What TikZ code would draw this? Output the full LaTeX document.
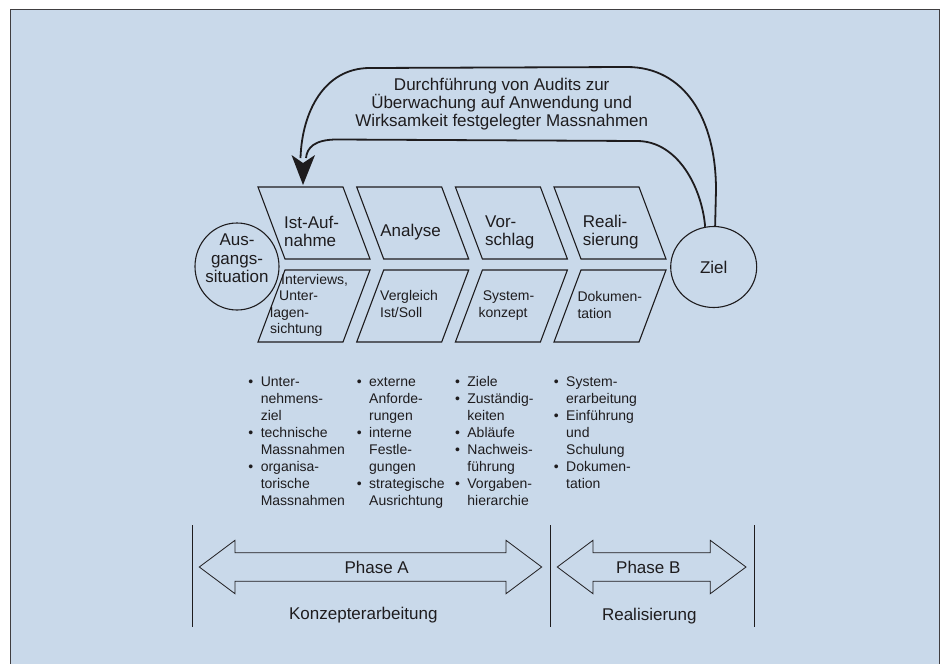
\documentclass[tikz,border=0pt]{standalone}
\usepackage{fontspec}
\setmainfont{Liberation Sans}
\usetikzlibrary{shapes.geometric}

\definecolor{paper}{RGB}{201,217,234}
\definecolor{ink}{RGB}{30,28,30}

\newcommand*{\boxw}{85}
\newcommand*{\boxh}{72}
\newcommand*{\slant}{27}
\newcommand*{\topY}{187}
\newcommand*{\lowY}{270}
\newcommand*{\fs}[1]{\rule{0pt}{#1pt}}
\newcommand*{\bul}{\llap{\textbullet\hspace{7.5pt}}}

\begin{document}
\begin{tikzpicture}
[
	x=1pt,y=-1pt,
	every node/.style={inner sep=0pt,text=ink},
	boxline/.style={draw=ink,line width=1.1pt},
	loopline/.style={draw=ink,line width=1.8pt},
	phaseline/.style={draw=ink,line width=0.8pt},
	bigtxt/.style={font=\fontsize{17}{18}\selectfont,align=left},
	smalltxt/.style={font=\fontsize{14}{16.5}\selectfont,align=left,anchor=north west},
	listtxt/.style={font=\fontsize{14}{17}\selectfont,align=left,anchor=north west},
	phasetxt/.style={font=\fontsize{17}{18}\selectfont,anchor=base},
	roundbox/.style={ellipse,draw=ink,line width=1.1pt}
]

	\useasboundingbox (0,0) rectangle (946,664);
	\clip (0,0) rectangle (946,664);

	% frame
	\fill[white] (0,0) rectangle (946,664);
	\filldraw[fill=paper,draw=ink!85,line width=1pt] (10.5,9.3) rectangle (939.5,680);

	% step boxes
	\foreach \a in {258,356.7,455.4,554}{
		\draw[boxline] (\a,\topY) -- ++(\boxw,0) -- ++(\slant,\boxh) -- ++(-\boxw,0) -- cycle;
		\draw[boxline] (\a+\slant,\lowY) -- ++(\boxw,0) -- ++(-\slant,\boxh) -- ++(-\boxw,0) -- cycle;
	}

	\node[roundbox,minimum width=84pt,minimum height=87pt] (ausg) at (237,266.5) {};
	\node[bigtxt,align=center,anchor=north,font=\fontsize{17}{18.5}\selectfont] (ausgtxt) at (237,232.7) {\fs{13}Aus-\\gangs-\\situation};
	\node[roundbox,minimum width=86pt,minimum height=81pt,font=\fontsize{17}{18}\selectfont] (ziel) at (713.7,267) {Ziel};

	\node[bigtxt,anchor=north west] (ist) at (284,215.3) {\fs{13}Ist-Auf-\\nahme};
	\node[bigtxt,anchor=base] (analyse) at (410.5,236) {Analyse};
	\node[bigtxt,anchor=north west] (vor) at (485,214.7) {\fs{13}Vor-\\schlag};
	\node[bigtxt,anchor=north west] (real) at (582.7,214.7) {\fs{13}Reali-\\sierung};

	\node[smalltxt] (interv) at (270,273) {\fs{11}\hspace*{11pt}Interviews,\\\hspace*{9pt}Unter-\\lagen-\\sichtung};
	\node[smalltxt] (vergl) at (380,289.7) {\fs{11}Vergleich\\Ist/Soll};
	\node[smalltxt] (syst) at (478.3,289.7) {\fs{11}\hspace*{4.4pt}System-\\konzept};
	\node[smalltxt] (doku) at (577.3,290.7) {\fs{11}Dokumen-\\tation};

	% lists
	\node[listtxt] (listA) at (260.6,374.8) {\fs{11}\bul Unter-\\nehmens-\\ziel\\\bul technische\\Massnahmen\\\bul organisa-\\torische\\Massnahmen};
	\node[listtxt] (listB) at (369,374.8) {\fs{11}\bul externe\\Anforde-\\rungen\\\bul interne\\Festle-\\gungen\\\bul strategische\\Ausrichtung};
	\node[listtxt] (listC) at (467.2,374.8) {\fs{11}\bul Ziele\\\bul Zuständig-\\keiten\\\bul Abläufe\\\bul Nachweis-\\führung\\\bul Vorgaben-\\hierarchie};
	\node[listtxt] (listD) at (566,374.8) {\fs{11}\bul System-\\erarbeitung\\\bul Einführung\\und\\Schulung\\\bul Dokumen-\\tation};

	% audit loop
	\node[bigtxt,align=center,anchor=north] (audit) at (501.7,77) {\fs{13}Durchführung von Audits zur\\Überwachung auf Anwendung und\\Wirksamkeit festgelegter Massnahmen};
	\coordinate (tip) at (303,185);
	\draw[loopline] (ziel.88) -- (716,190) .. controls (716,118) and (684,67) .. (627,67) -- (370,68) .. controls (324,68) and (302,112) .. (300.5,158);
	\draw[loopline] (ziel.102) .. controls (702,188) and (678,141) .. (637,141) -- (337,139.5) .. controls (314,139.5) and (307,148) .. (306,158);
	\fill[ink] (291.5,155) -- (tip) -- (315,155) -- (303,163) -- cycle;

	% phases
	\foreach \x in {192.7,550,754}
		\draw[phaseline] (\x,525) -- (\x,626.7);
	\foreach \l/\r in {199.3/541.7,557.3/746}
		\draw[phaseline] (\l,567) -- ++(35.7,-26.7) -- ++(0,12.5) -- (\r-35.7,552.8) -- ++(0,-12.5) -- (\r,567) -- ++(-35.7,26.7) -- ++(0,-12.5) -- (\l+35.7,581.2) -- ++(0,12.5) -- cycle;

	\node[phasetxt] (phaseA) at (376.7,573) {Phase A};
	\node[phasetxt] (phaseB) at (648.3,573) {Phase B};
	\node[phasetxt] (konz) at (363.3,619.3) {Konzepterarbeitung};
	\node[phasetxt] (realis) at (649.3,620) {Realisierung};

\end{tikzpicture}
\end{document}
